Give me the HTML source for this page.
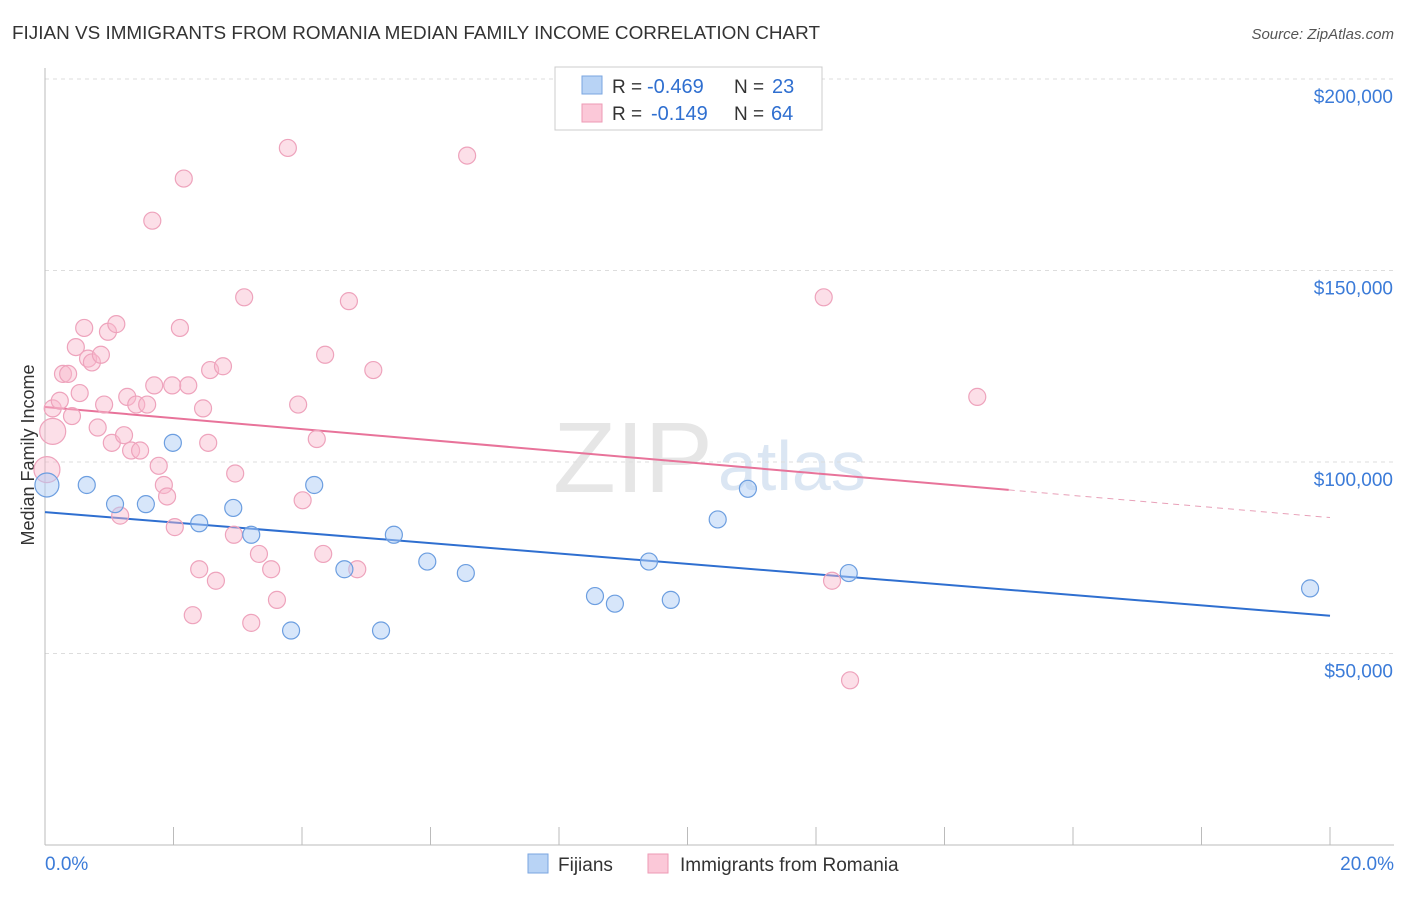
<!DOCTYPE html>
<html><head><meta charset="utf-8"><style>
body{margin:0;background:#fff;font-family:"Liberation Sans",sans-serif}
svg text{font-family:"Liberation Sans",sans-serif}
</style></head><body>
<svg id="chart" width="1406" height="892">
<text x="12" y="39" font-size="18" fill="#333" textLength="808" lengthAdjust="spacingAndGlyphs">FIJIAN VS IMMIGRANTS FROM ROMANIA MEDIAN FAMILY INCOME CORRELATION CHART</text>
<text x="1394" y="39" font-size="15" fill="#555" text-anchor="end" font-style="italic">Source: ZipAtlas.com</text>
<text x="34" y="455" font-size="18" fill="#333" text-anchor="middle" transform="rotate(-90 34 455)">Median Family Income</text>
<text x="553" y="492" font-size="100" fill="#e6e6e6" font-family="Liberation Serif" textLength="160" lengthAdjust="spacingAndGlyphs">ZIP</text>
<text x="718" y="490" font-size="70" fill="#dbe6f3">atlas</text>
<g id="grid"></g><g id="axes"></g><g id="lines"></g><g id="pts"></g>
<g>
<rect x="555" y="67" width="267" height="63" fill="#fff" stroke="#ccc"/>
<rect x="582" y="76" width="20" height="18" fill="#b8d3f5" stroke="#7aa6e0"/>
<rect x="582" y="104" width="20" height="18" fill="#fbc8d8" stroke="#ee9ab5"/>
<text x="612" y="93" font-size="19" fill="#333">R =</text>
<text x="647" y="93" font-size="20" fill="#2f6fd0">-0.469</text>
<text x="734" y="93" font-size="19" fill="#333">N =</text>
<text x="772" y="93" font-size="20" fill="#2f6fd0">23</text>
<text x="612" y="120" font-size="19" fill="#333">R =</text>
<text x="651" y="120" font-size="20" fill="#2f6fd0">-0.149</text>
<text x="734" y="120" font-size="19" fill="#333">N =</text>
<text x="771" y="120" font-size="20" fill="#2f6fd0">64</text>
</g>
<g>
<rect x="528" y="854" width="20" height="19" fill="#b8d3f5" stroke="#7aa6e0"/>
<text x="558" y="871" font-size="19" fill="#333">Fijians</text>
<rect x="648" y="854" width="20" height="19" fill="#fbc8d8" stroke="#ee9ab5"/>
<text x="680" y="871" font-size="19" fill="#333">Immigrants from Romania</text>
</g>
<text x="45" y="870" font-size="19" fill="#3b7bd8">0.0%</text>
<text x="1394" y="870" font-size="19" fill="#3b7bd8" text-anchor="end">20.0%</text>
</svg>
<script>
const yTicks=[50000,100000,150000,200000];
const yTickLabels=["$50,000","$100,000","$150,000","$200,000"];
const fijiX=[0.03,0.65,1.09,1.57,1.99,2.40,2.93,3.21,3.83,4.19,4.66,5.23,5.43,5.95,6.55,8.56,8.87,9.40,9.74,10.47,10.94,12.51,19.69];
const fijiY=[94000,94000,89000,89000,105000,84000,88000,81000,56000,94000,72000,56000,81000,74000,71000,65000,63000,74000,64000,85000,93000,71000,67000];
const romX=[0.03,0.12,0.12,0.23,0.28,0.36,0.42,0.48,0.54,0.61,0.67,0.73,0.82,0.87,0.92,0.98,1.04,1.11,1.17,1.23,1.28,1.34,1.42,1.48,1.59,1.67,1.70,1.77,1.85,1.90,1.98,2.02,2.10,2.16,2.23,2.30,2.40,2.46,2.54,2.57,2.66,2.77,2.94,2.96,3.10,3.21,3.33,3.52,3.61,3.78,3.94,4.01,4.23,4.33,4.36,4.73,4.86,5.11,6.57,12.12,12.25,12.53,14.51];
const romY=[98000,108000,114000,116000,123000,123000,112000,130000,118000,135000,127000,126000,109000,128000,115000,134000,105000,136000,86000,107000,117000,103000,115000,103000,115000,163000,120000,99000,94000,91000,120000,83000,135000,174000,120000,60000,72000,114000,105000,124000,69000,125000,81000,97000,143000,58000,76000,72000,64000,182000,115000,90000,106000,76000,128000,142000,72000,124000,180000,143000,69000,43000,117000];
const X0=45,X1=1330,Y0=845;
const xs=p=>X0+(X1-X0)*p/20, ys=v=>Y0-v*383/100000;
const NS="http://www.w3.org/2000/svg";
function mk(t,a,parent){const e=document.createElementNS(NS,t);for(const k in a)e.setAttribute(k,a[k]);document.getElementById(parent).appendChild(e);return e;}
yTicks.forEach((v,i)=>{
 const l=mk('line',{x1:X0,x2:1394,y1:ys(v),y2:ys(v),stroke:'#ddd','stroke-dasharray':'4,4'},'grid');
 
 
 const t=mk('text',{x:1393,y:ys(v)+24,'font-size':19,fill:'#3b7bd8','text-anchor':'end'},'grid');
 t.textContent=yTickLabels[i];
 
 
});
const topGrid=mk('line',{x1:X0,x2:1394,y1:79,y2:79,stroke:'#ddd','stroke-dasharray':'4,4'},'grid');


const ya=mk('line',{x1:X0,x2:X0,y1:68,y2:Y0,stroke:'#bbb'},'axes');


const xa=mk('line',{x1:X0,x2:1394,y1:Y0,y2:Y0,stroke:'#bbb'},'axes');


for(let p=2;p<=20;p+=2){const t=mk('line',{x1:xs(p),x2:xs(p),y1:Y0,y2:Y0-18,stroke:'#bbb'},'axes');
 
 }
function fit(X,Y){const n=X.length,mx=X.reduce((a,b)=>a+b)/n,my=Y.reduce((a,b)=>a+b)/n;let sxy=0,sxx=0;for(let i=0;i<n;i++){sxy+=(X[i]-mx)*(Y[i]-my);sxx+=(X[i]-mx)**2;}const b=sxy/sxx;return [my-b*mx,b];}
const fb=fit(fijiX,fijiY),fr=fit(romX,romY);
const bl=mk('line',{x1:xs(0),y1:ys(fb[0]),x2:xs(20),y2:ys(fb[0]+fb[1]*20),stroke:'#2f6fd0','stroke-width':2},'lines');


const pl=mk('line',{x1:xs(0),y1:ys(fr[0]),x2:xs(15),y2:ys(fr[0]+fr[1]*15),stroke:'#e8739a','stroke-width':2},'lines');


const pd=mk('line',{x1:xs(15),y1:ys(fr[0]+fr[1]*15),x2:xs(20),y2:ys(fr[0]+fr[1]*20),stroke:'#e8a0b8','stroke-width':1,'stroke-dasharray':'6,5'},'lines');


romX.forEach((x,i)=>{const c=mk('circle',{cx:xs(x),cy:ys(romY[i]),r:i<2?13:8.5,fill:'rgba(248,185,205,0.45)',stroke:'#eea3bc','stroke-width':1.2},'pts');
 
 });
fijiX.forEach((x,i)=>{const c=mk('circle',{cx:xs(x),cy:ys(fijiY[i]),r:i<1?12:8.5,fill:'rgba(175,205,245,0.5)',stroke:'#6c9ee0','stroke-width':1.2},'pts');
 
 });
</script>
</body></html>
